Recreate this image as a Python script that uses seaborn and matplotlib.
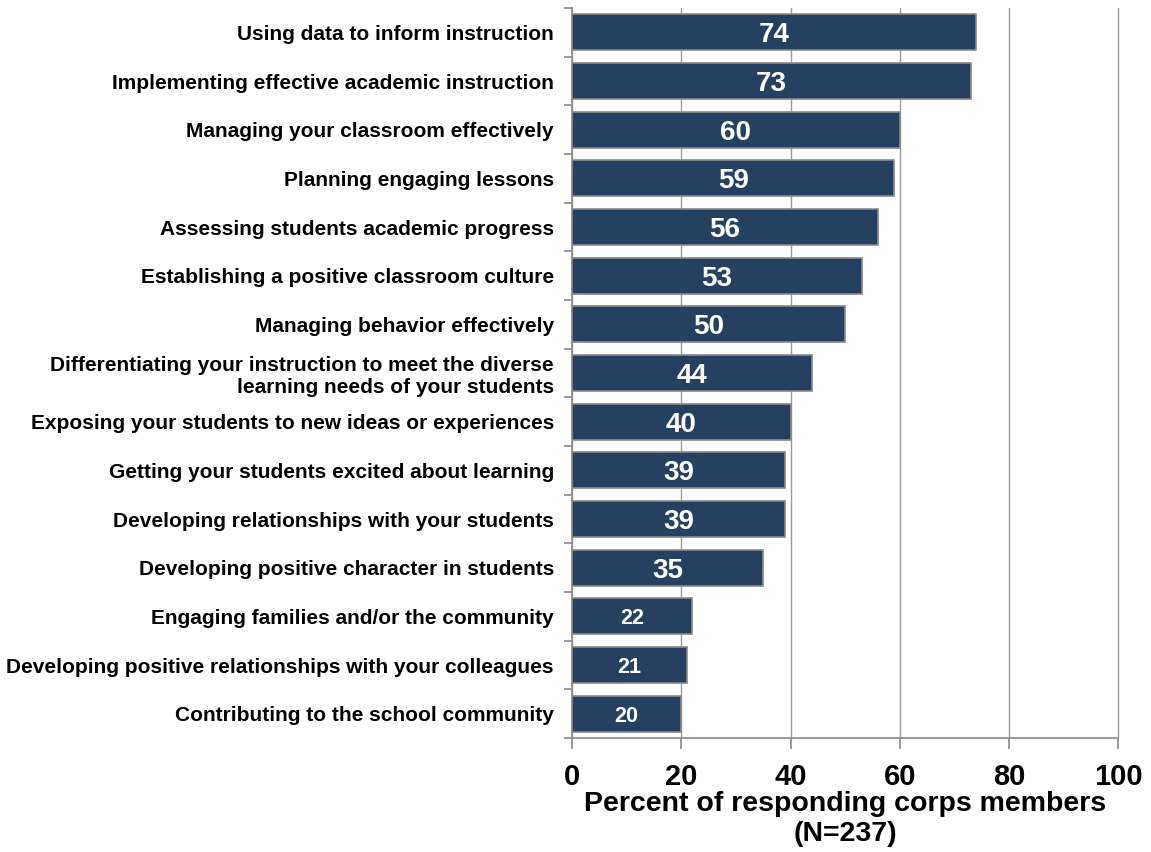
import matplotlib
matplotlib.use("Agg")
import matplotlib.pyplot as plt
import seaborn as sns
import pandas as pd
import numpy as np

categories = [
    "Using data to inform instruction",
    "Implementing effective academic instruction",
    "Managing your classroom effectively",
    "Planning engaging lessons",
    "Assessing students academic progress",
    "Establishing a positive classroom culture",
    "Managing behavior effectively",
    "Differentiating your instruction to meet the diverse\nlearning needs of your students",
    "Exposing your students to new ideas or experiences",
    "Getting your students excited about learning",
    "Developing relationships with your students",
    "Developing positive character in students",
    "Engaging families and/or the community",
    "Developing positive relationships with your colleagues",
    "Contributing to the school community",
]
values = [74, 73, 60, 59, 56, 53, 50, 44, 40, 39, 39, 35, 22, 21, 20]
xticks = [0, 20, 40, 60, 80, 100]

sns.set_theme(style="white")
plt.rcParams['font.family'] = ['Liberation Sans', 'DejaVu Sans']
plt.rcParams['font.weight'] = 'bold'
plt.rcParams['text.color'] = 'black'
plt.rcParams['axes.labelcolor'] = 'black'
plt.rcParams['xtick.color'] = 'black'
plt.rcParams['ytick.color'] = 'black'

df = pd.DataFrame({"category": categories, "value": values})

fig = plt.figure(figsize=(11.51, 8.52), dpi=100)
ax = fig.add_axes([0.497, 0.1338, 0.4745, 0.8568])

sns.barplot(data=df, y="category", x="value", orient="h", color="#264061",
            saturation=1, width=0.74, edgecolor="#8a8a8a", linewidth=1.2, ax=ax, zorder=3)

ax.set_xlim(0, 100)
ax.set_ylim(len(categories) - 0.5, -0.5)
ax.set_xticks(xticks)
ax.set_xticklabels([str(t) for t in xticks], fontsize=21, fontweight='bold')
ax.set_yticks(range(len(categories)))
ax.set_yticklabels(categories, fontsize=15, fontweight='bold', linespacing=1.2)
ax.set_yticks(np.arange(-0.5, len(categories), 1.0), minor=True)
ax.tick_params(axis='y', which='major', length=0, pad=13)
ax.tick_params(axis='y', which='minor', length=6, color="#8a8a8a", width=1.2, left=True)
ax.tick_params(axis='x', which='major', length=8, color="#8a8a8a", width=1.2, bottom=True,
               pad=10, labelcolor='black')

ax.xaxis.grid(True, color="#9a9a9a", linewidth=1.0, zorder=0)
for gl in ax.get_xgridlines():
    gl.set_clip_on(False)
ax.set_axisbelow(True)
for s in ["top", "right"]:
    ax.spines[s].set_visible(False)
for s in ["left", "bottom"]:
    ax.spines[s].set_color("#8a8a8a")
    ax.spines[s].set_linewidth(1.2)

ax.set_ylabel("")
ax.set_xlabel("Percent of responding corps members\n(N=237)", fontsize=20.5,
              fontweight='bold', labelpad=0, linespacing=1.2, color='black')

for i, v in enumerate(values):
    fs = 20 if v >= 30 else 15.5
    ax.text(v / 2, i, str(v), ha='center', va='center_baseline', color='white',
            fontsize=fs, fontweight='bold', zorder=5)

fig.savefig("out.png", dpi=100)
